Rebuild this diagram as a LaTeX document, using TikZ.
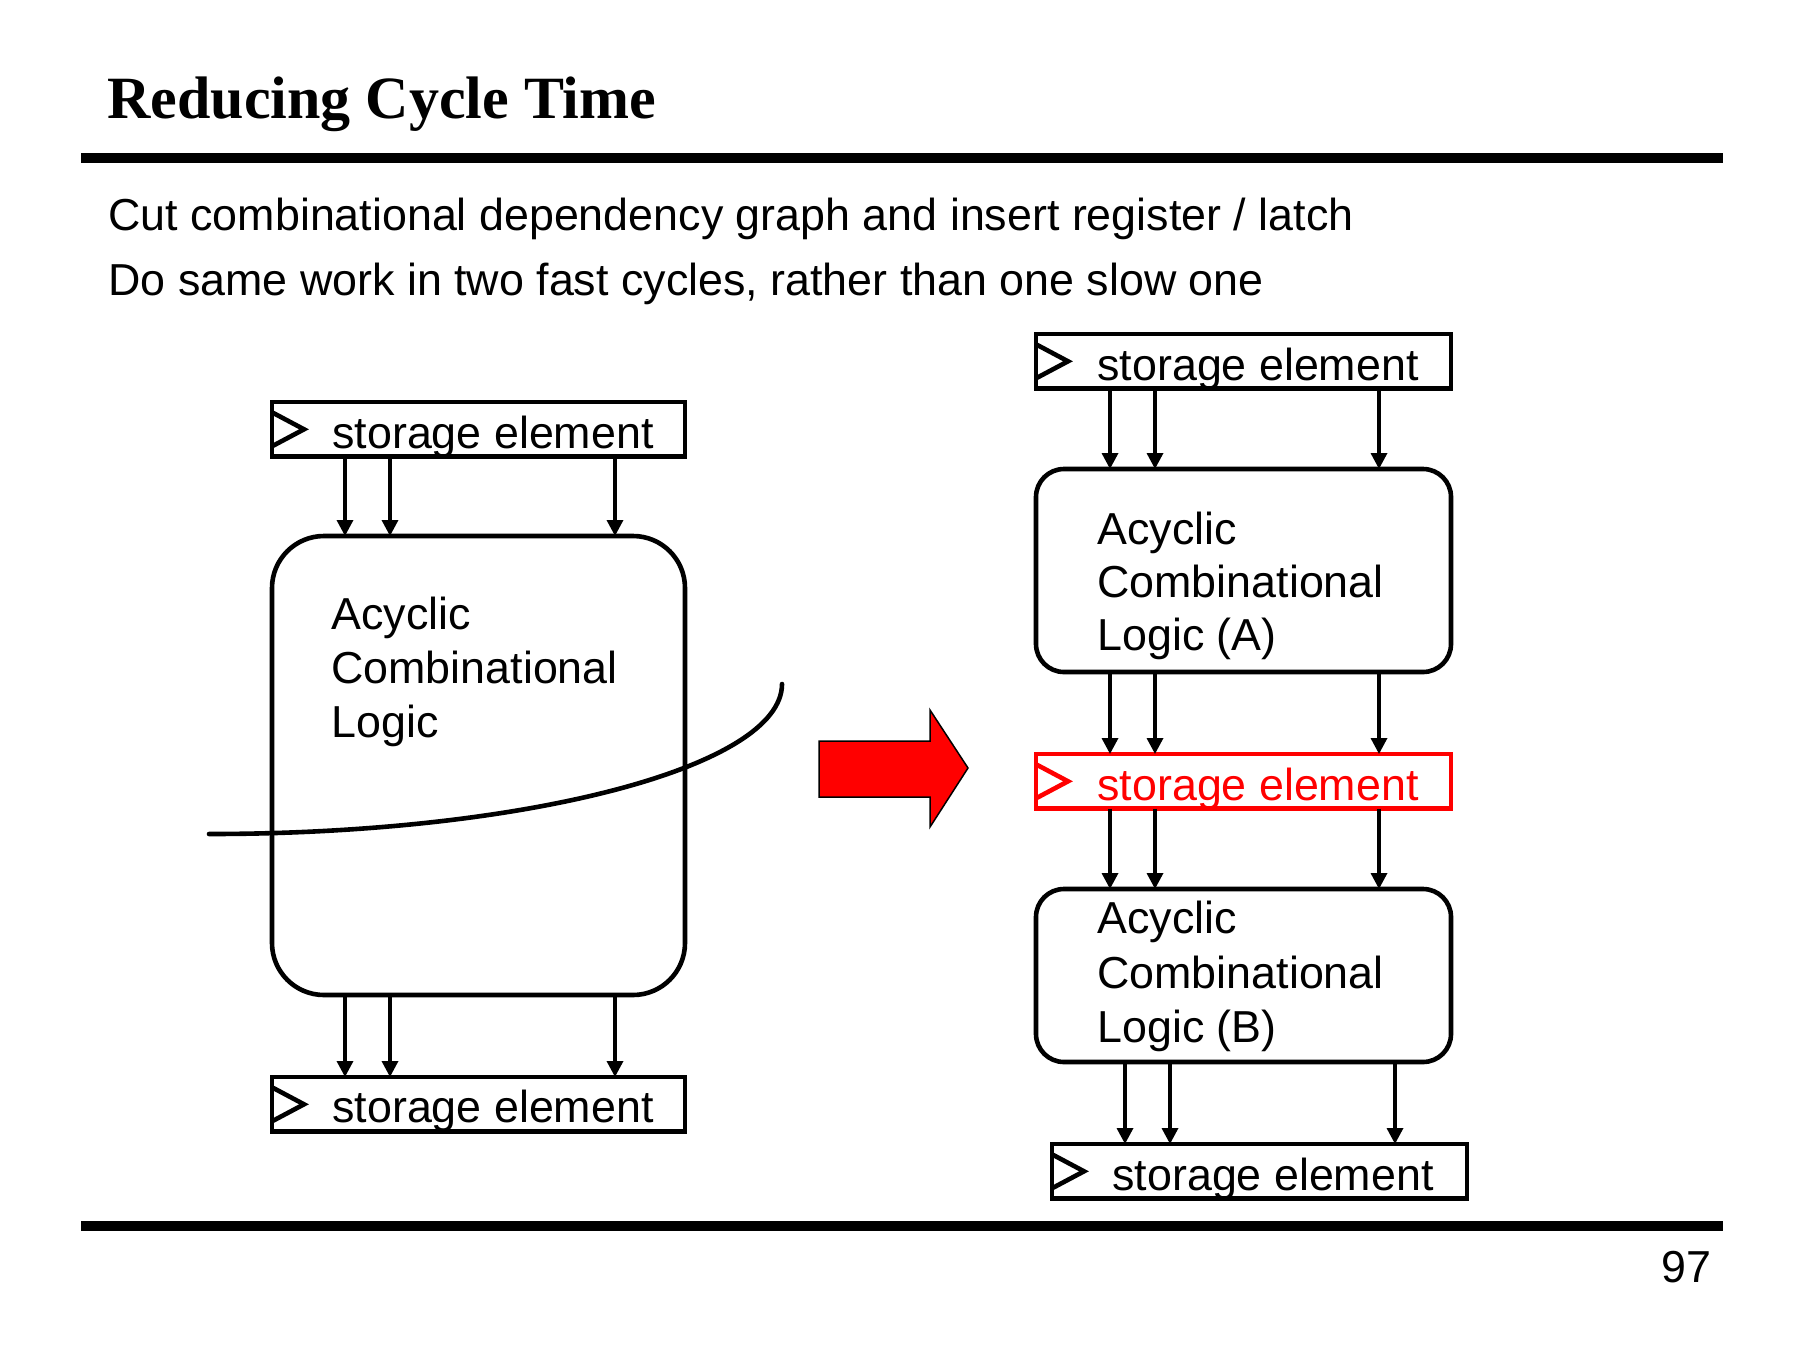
\documentclass[tikz,border=0pt]{standalone}
\usepackage{fontspec}
\setmainfont{Liberation Sans}
\newfontfamily\titlefont{Liberation Serif}
\usetikzlibrary{arrows.meta,calc}
\begin{document}
\begin{tikzpicture}[x=0.5pt,y=-0.5pt,
  store/.style={draw, line width=2.3pt, minimum height=27.3pt, inner sep=0pt, outer sep=0pt, anchor=north west},
  logic/.style={draw, line width=2.3pt, inner sep=0pt, outer sep=0pt, anchor=north west},
  txt/.style={anchor=base west, inner sep=0pt, font=\fontsize{22.4pt}{27pt}\selectfont},
  arr/.style={line width=1.7pt, -{Triangle[width=8pt,length=8pt]}},
  rule/.style={line width=5pt},
  clk/.style={line width=2.3pt}
]
\useasboundingbox (0,0) rectangle (1800,1350);

% title and rules
\node[anchor=base west, inner sep=0pt, font=\titlefont\bfseries\fontsize{30pt}{36pt}\selectfont] (title) at (107,118) {Reducing Cycle Time};
\draw[rule] (81,158) -- (1723,158);
\draw[rule] (81,1226) -- (1723,1226);
\node[txt] (l1) at (108,230) {Cut combinational dependency graph and insert register / latch};
\node[txt] (l2) at (108,295) {Do same work in two fast cycles, rather than one slow one};
\node[txt, anchor=base east] (pg) at (1712,1282) {97};

% ---------- left diagram ----------
\node[store, minimum width=206.5pt] (ls1) at (272,402) {};
\node[txt] (ls1t) at (332,448) {storage element};
\node[logic, rounded corners=26pt, minimum width=206.5pt, minimum height=229.5pt] (lb) at (272,536) {};
\node[txt] (lbt1) at (331,629) {Acyclic};
\node[txt] (lbt2) at (331,683) {Combinational};
\node[txt] (lbt3) at (331,737) {Logic};
\node[store, minimum width=206.5pt] (ls2) at (272,1077) {};
\node[txt] (ls2t) at (332,1122) {storage element};
\foreach \s in {ls1,ls2}{
  \draw[clk] ([yshift=8.5pt]\s.west) -- ++(16pt,-8.5pt) -- ++(-16pt,-8.5pt);
}
\foreach \x in {345,390,615}{
  \coordinate (c) at (\x,0);
  \draw[arr] (c |- ls1.south) -- (c |- lb.north);
  \draw[arr] (c |- lb.south) -- (c |- ls2.north);
}
\draw[line width=2.3pt, line cap=round] (209,834) .. controls (525,834) and (782,767) .. (782,684);

% ---------- red block arrow ----------
\filldraw[fill=red, draw=black, line width=0.75pt, line join=miter]
  (819,741) -- (930,741) -- (930,710) -- (968,768) -- (930,827) -- (930,797) -- (819,797) -- cycle;

% ---------- right diagram ----------
\node[store, minimum width=207.5pt] (rs1) at (1036,334) {};
\node[txt] (rs1t) at (1097,380) {storage element};
\node[logic, rounded corners=14pt, minimum width=207.5pt, minimum height=101.5pt] (ra) at (1036,469) {};
\node[txt] (rat1) at (1097,544) {Acyclic};
\node[txt] (rat2) at (1097,597) {Combinational};
\node[txt] (rat3) at (1097,650) {Logic (A)};
\node[store, draw=red, minimum width=207.5pt] (rs2) at (1036,754) {};
\node[txt, text=red] (rs2t) at (1097,800) {storage element};
\node[logic, rounded corners=14pt, minimum width=207.5pt, minimum height=86.5pt] (rb) at (1036,889) {};
\node[txt] (rbt1) at (1097,933) {Acyclic};
\node[txt] (rbt2) at (1097,988) {Combinational};
\node[txt] (rbt3) at (1097,1042) {Logic (B)};
\node[store, minimum width=207.5pt] (rs3) at (1052,1144) {};
\node[txt] (rs3t) at (1112,1190) {storage element};
\foreach \s in {rs1,rs3}{
  \draw[clk] ([yshift=8.5pt]\s.west) -- ++(16pt,-8.5pt) -- ++(-16pt,-8.5pt);
}
\draw[clk, red] ([yshift=8.5pt]rs2.west) -- ++(16pt,-8.5pt) -- ++(-16pt,-8.5pt);
\foreach \x in {1110,1155,1379}{
  \coordinate (c) at (\x,0);
  \draw[arr] (c |- rs1.south) -- (c |- ra.north);
  \draw[arr] (c |- ra.south) -- (c |- rs2.north);
  \draw[arr] (c |- rs2.south) -- (c |- rb.north);
}
\foreach \x in {1125,1170,1395}{
  \coordinate (c) at (\x,0);
  \draw[arr] (c |- rb.south) -- (c |- rs3.north);
}
\end{tikzpicture}
\end{document}
